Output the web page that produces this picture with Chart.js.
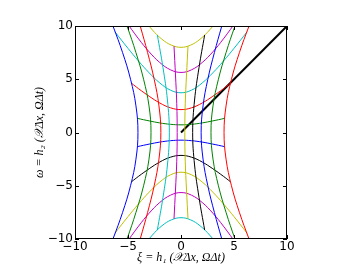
<!DOCTYPE html>
<html>
<head>
<meta charset="utf-8">
<script src="https://cdn.jsdelivr.net/npm/chart.js@4"></script>
<style>
  body { margin: 0; background: #fff; }
  canvas { display: block; }
</style>
</head>
<body>
<canvas id="grid" width="354" height="266"></canvas>
<script>
// omega samples along the lines of constant X (vertical-ish curves)
const omOuter = [-12.5, -10, -7.5, -5, -2.5, 0, 2.5, 5, 7.5, 10, 12.5];
const omMid = [-9.15, -6.1, -3.05, 0, 3.05, 6.1, 9.15];
const omInner = [-8.1, -5.4, -2.7, 0, 2.7, 5.4, 8.1];

// xi values of the 10 constant-X curves, left to right
const xiV1 = [-7.42, -6.42, -5.51, -4.76, -4.25, -4.06, -4.25, -4.76, -5.51, -6.42, -7.42];
const xiV2 = [-6.0, -5.09, -4.25, -3.53, -3.02, -2.83, -3.02, -3.53, -4.25, -5.09, -6.0];
const xiV3 = [-4.59, -3.85, -3.15, -2.53, -2.08, -1.9, -2.08, -2.53, -3.15, -3.85, -4.59];
const xiV4 = [-2.23, -1.7, -1.28, -1.1, -1.28, -1.7, -2.23];
const xiV5 = [-0.66, -0.52, -0.4, -0.36, -0.4, -0.52, -0.66];
const xiV6 = [0.66, 0.52, 0.4, 0.36, 0.4, 0.52, 0.66];
const xiV7 = [2.23, 1.7, 1.28, 1.1, 1.28, 1.7, 2.23];
const xiV8 = [4.59, 3.85, 3.15, 2.53, 2.08, 1.9, 2.08, 2.53, 3.15, 3.85, 4.59];
const xiV9 = [6.0, 5.09, 4.25, 3.53, 3.02, 2.83, 3.02, 3.53, 4.25, 5.09, 6.0];
const xiV10 = [7.42, 6.42, 5.51, 4.76, 4.25, 4.06, 4.25, 4.76, 5.51, 6.42, 7.42];

// xi samples along the lines of constant Omega (horizontal-ish curves)
const xiH8 = [-3.6, -2.7, -1.8, -0.9, 0, 0.9, 1.8, 2.7, 3.6];
const xiH6 = [-5.3, -4, -3, -2, -1, 0, 1, 2, 3, 4, 5.3];
const xiH4 = [-6.24, -5, -4, -3, -2, -1, 0, 1, 2, 3, 4, 5, 6.24];
const xiH2 = [-4.65, -4, -3, -2, -1, 0, 1, 2, 3, 4, 4.65];
const xiH1 = [-4.09, -3, -2, -1, 0, 1, 2, 3, 4.09];

// omega values of the 10 constant-Omega curves, bottom to top
const omH1 = [-10.73, -9.63, -8.76, -8.2, -8.0, -8.2, -8.76, -9.63, -10.73];
const omH2 = [-10.56, -8.79, -7.57, -6.57, -5.89, -5.64, -5.89, -6.57, -7.57, -8.79, -10.56];
const omH3 = [-9.46, -7.9, -6.7, -5.6, -4.65, -3.98, -3.73, -3.98, -4.65, -5.6, -6.7, -7.9, -9.46];
const omH4 = [-4.61, -4.11, -3.4, -2.77, -2.32, -2.15, -2.32, -2.77, -3.4, -4.11, -4.61];
const omH5 = [-1.32, -1.09, -0.9, -0.77, -0.72, -0.77, -0.9, -1.09, -1.32];
const omH6 = [1.32, 1.09, 0.9, 0.77, 0.72, 0.77, 0.9, 1.09, 1.32];
const omH7 = [4.61, 4.11, 3.4, 2.77, 2.32, 2.15, 2.32, 2.77, 3.4, 4.11, 4.61];
const omH8 = [9.46, 7.9, 6.7, 5.6, 4.65, 3.98, 3.73, 3.98, 4.65, 5.6, 6.7, 7.9, 9.46];
const omH9 = [10.56, 8.79, 7.57, 6.57, 5.89, 5.64, 5.89, 6.57, 7.57, 8.79, 10.56];
const omH10 = [10.73, 9.63, 8.76, 8.2, 8.0, 8.2, 8.76, 9.63, 10.73];

// omega = xi reference line
const diagXi = [0, 10];
const diagOmega = [0, 10];

const tickValues = [-10, -5, 0, 5, 10];
const xTitle = 'ξ = h₁ (𝒳Δx, ΩΔt)';
const yTitle = 'ω = h₂ (𝒳Δx, ΩΔt)';

// matplotlib classic colour cycle
const cycle = ['#0000ff', '#008000', '#ff0000', '#00bfbf', '#bf00bf', '#bfbf00', '#000000'];

function toPoints(xs, ys) {
    return xs.map((x, i) => ({ x: x, y: ys[i] }));
}

const curves = [
    toPoints(xiV1, omOuter), toPoints(xiV2, omOuter), toPoints(xiV3, omOuter),
    toPoints(xiV4, omMid), toPoints(xiV5, omInner), toPoints(xiV6, omInner),
    toPoints(xiV7, omMid), toPoints(xiV8, omOuter), toPoints(xiV9, omOuter),
    toPoints(xiV10, omOuter),
    toPoints(xiH8, omH1), toPoints(xiH6, omH2), toPoints(xiH4, omH3),
    toPoints(xiH2, omH4), toPoints(xiH1, omH5), toPoints(xiH1, omH6),
    toPoints(xiH2, omH7), toPoints(xiH4, omH8), toPoints(xiH6, omH9),
    toPoints(xiH8, omH10)
];

const datasets = curves.map((pts, i) => ({
    data: pts,
    borderColor: cycle[i % cycle.length],
    borderWidth: 1,
    tension: 0.4
}));
datasets.push({
    data: toPoints(diagXi, diagOmega),
    borderColor: '#000000',
    borderWidth: 2,
    tension: 0
});

// box frame with inward ticks on all four sides
const frame = {
    id: 'frame',
    afterDatasetsDraw(chart) {
        const { ctx, chartArea: a, scales } = chart;
        ctx.save();
        ctx.strokeStyle = '#000';
        ctx.lineWidth = 1;
        ctx.beginPath();
        tickValues.forEach(v => {
            const px = Math.round(scales.x.getPixelForValue(v)) + 0.5;
            ctx.moveTo(px, a.bottom); ctx.lineTo(px, a.bottom - 4);
            ctx.moveTo(px, a.top); ctx.lineTo(px, a.top + 4);
            const py = Math.round(scales.y.getPixelForValue(v)) + 0.5;
            ctx.moveTo(a.left, py); ctx.lineTo(a.left + 4, py);
            ctx.moveTo(a.right, py); ctx.lineTo(a.right - 4, py);
        });
        ctx.stroke();
        ctx.strokeRect(Math.round(a.left) + 0.5, Math.round(a.top) + 0.5,
            Math.round(a.right - a.left) - 1, Math.round(a.bottom - a.top) - 1);
        ctx.restore();
    }
};

const tickFont = { family: 'DejaVu Sans', size: 12 };
const titleFont = { family: 'Liberation Serif', size: 12, style: 'italic' };
const minus = v => String(v).replace('-', '\u2212');

new Chart(document.getElementById('grid'), {
    type: 'scatter',
    data: { datasets: datasets },
    options: {
        responsive: false,
        animation: false,
        devicePixelRatio: 1,
        showLine: true,
        elements: { point: { radius: 0 } },
        layout: { padding: { left: 0, top: 26, right: 67, bottom: 0 } },
        plugins: { legend: { display: false }, tooltip: { enabled: false } },
        scales: {
            x: {
                min: -10, max: 10,
                grid: { display: false, drawTicks: false },
                border: { display: false },
                ticks: { stepSize: 5, padding: 1, maxRotation: 0, color: '#000', font: tickFont, callback: minus },
                title: { display: true, text: xTitle, color: '#000', font: titleFont, padding: { top: 0, bottom: 1 } },
                afterFit: s => { s.height = 27; }
            },
            y: {
                min: -10, max: 10,
                grid: { display: false, drawTicks: false },
                border: { display: false },
                ticks: { stepSize: 5, padding: 2, color: '#000', font: tickFont, callback: minus },
                title: { display: true, text: yTitle, color: '#000', font: titleFont, padding: { top: 33, bottom: 0 } },
                afterFit: s => { s.width = 75; }
            }
        }
    },
    plugins: [frame]
});
</script>
</body>
</html>
